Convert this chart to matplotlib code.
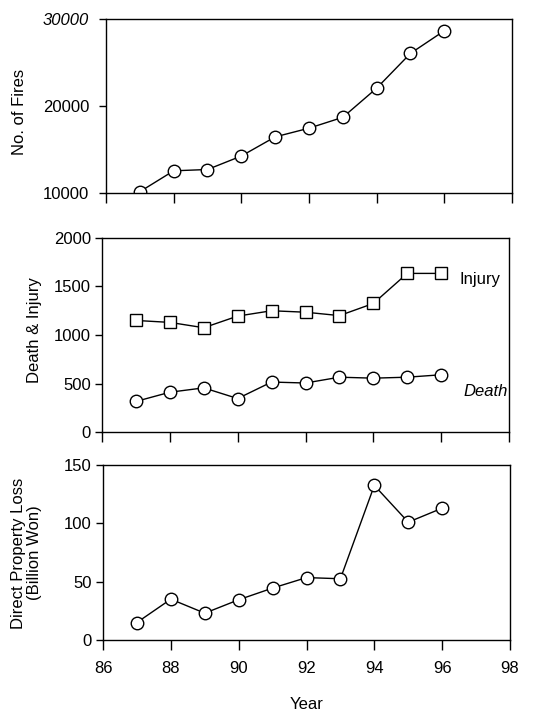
import matplotlib
matplotlib.use('Agg')
import matplotlib.pyplot as plt

plt.rcParams['font.family'] = ['Liberation Sans', 'DejaVu Sans']

years = [87, 88, 89, 90, 91, 92, 93, 94, 95, 96]
fires = [10150, 12550, 12700, 14250, 16450, 17450, 18700, 22050, 26050, 28650]
injury = [1150, 1130, 1075, 1195, 1250, 1235, 1200, 1325, 1635, 1635]
death = [315, 410, 455, 345, 515, 505, 565, 555, 565, 590]
loss = [15, 35, 23, 34.5, 44.5, 53.5, 52.5, 132.5, 101, 113]

xticks = [86, 88, 90, 92, 94, 96, 98]

W, H = 552, 713
fig = plt.figure(figsize=(W / 100, H / 100), dpi=100)

def box(l, t, r, b):
    return [l / W, 1 - b / H, (r - l) / W, (b - t) / H]

ax1 = fig.add_axes(box(106, 19, 512, 193))
ax2 = fig.add_axes(box(102, 238, 509, 432))
ax3 = fig.add_axes(box(103, 465, 510, 640))

mk = dict(color='black', lw=1.0, markerfacecolor='white',
          markeredgecolor='black', markeredgewidth=1.0)

ax1.plot(years, fires, 'o-', ms=9, **mk)
ax1.set_ylim(10000, 30000)
ax1.set_yticks([10000, 20000, 30000])

ax2.plot(years, injury, 's-', ms=9, **mk)
ax2.plot(years, death, 'o-', ms=9, **mk)
ax2.set_ylim(0, 2000)
ax2.set_yticks([0, 500, 1000, 1500, 2000])
ax2.text(96.55, 1575, 'Injury', fontsize=12, va='center', ha='left')
ax2.text(96.65, 420, 'Death', fontsize=12, va='center', ha='left', style='italic')

ax3.plot(years, loss, 'o-', ms=9, **mk)
ax3.set_ylim(0, 150)
ax3.set_yticks([0, 50, 100, 150])

for ax in (ax1, ax2, ax3):
    ax.set_xlim(86, 98)
    ax.set_xticks(xticks)
    ax.tick_params(axis='x', direction='out', length=7, width=1, labelsize=12, pad=8)
    ax.tick_params(axis='y', direction='out', length=5, width=1, labelsize=12, pad=3)
    for s in ax.spines.values():
        s.set_linewidth(1.0)

ax1.tick_params(axis='y', pad=7)
ax1.get_yticklabels()[-1].set_style('italic')
ax1.tick_params(axis='x', labelbottom=False)
ax2.tick_params(axis='x', labelbottom=False)
ax3.set_xlabel('Year', fontsize=12, labelpad=15)

fig.text(20 / W, 1 - 112 / H, 'No. of Fires', rotation=90, fontsize=12, ha='center', va='center')
fig.text(34 / W, 1 - 330 / H, 'Death & Injury', rotation=90, fontsize=12, ha='center', va='center')
fig.text(19 / W, 1 - 553 / H, 'Direct Property Loss', rotation=90, fontsize=12, ha='center', va='center')
fig.text(35 / W, 1 - 553 / H, '(Billion Won)', rotation=90, fontsize=12, ha='center', va='center')

fig.savefig('out.png', dpi=100)
